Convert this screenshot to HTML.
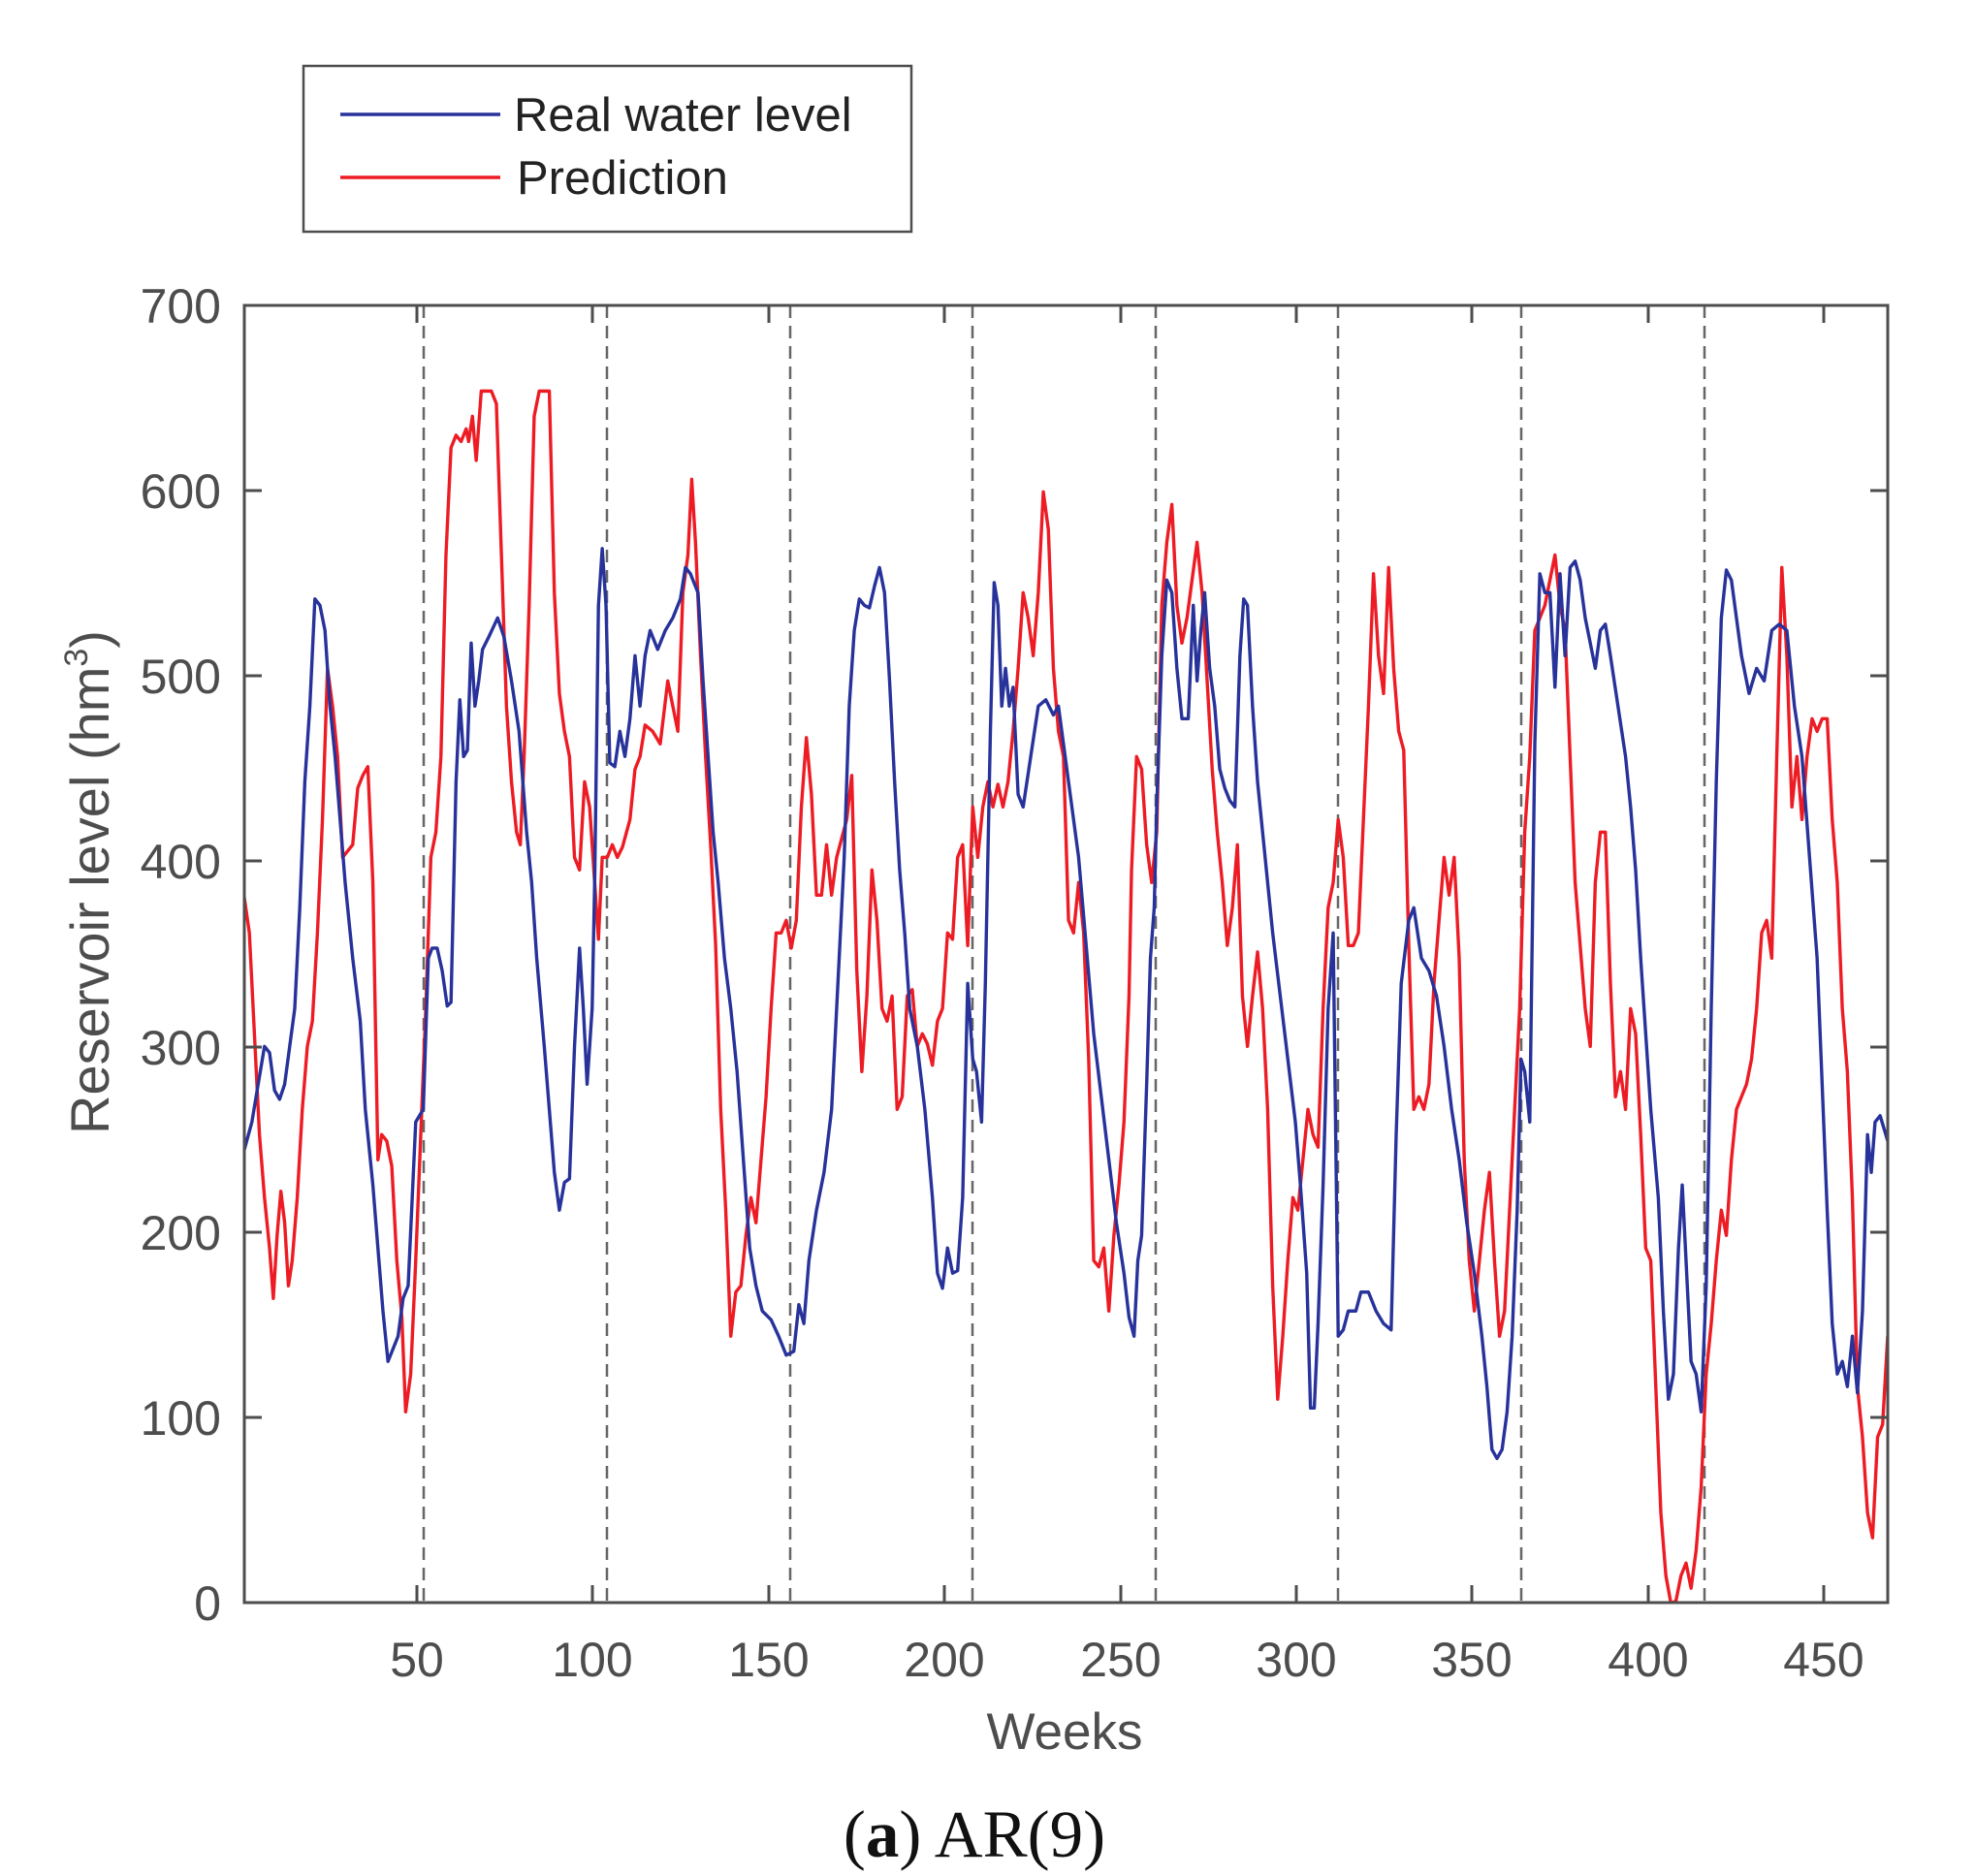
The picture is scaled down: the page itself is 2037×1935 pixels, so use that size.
<!DOCTYPE html>
<html><head><meta charset="utf-8"><style>html,body{margin:0;padding:0;background:#fff}svg{display:block}</style></head>
<body>
<svg width="2037" height="1935" viewBox="0 0 2037 1935" xmlns="http://www.w3.org/2000/svg" font-family="Liberation Sans, Arial, sans-serif" fill="#4d4d4d">
<defs><clipPath id="c"><rect x="252" y="315" width="1695" height="1338"/></clipPath></defs>
<g stroke="#666" stroke-width="2.5" stroke-dasharray="13,8">
<line x1="437" y1="315" x2="437" y2="1653"/><line x1="626" y1="315" x2="626" y2="1653"/><line x1="815" y1="315" x2="815" y2="1653"/><line x1="1003" y1="315" x2="1003" y2="1653"/><line x1="1192" y1="315" x2="1192" y2="1653"/><line x1="1380" y1="315" x2="1380" y2="1653"/><line x1="1569" y1="315" x2="1569" y2="1653"/><line x1="1758" y1="315" x2="1758" y2="1653"/>
</g>
<g clip-path="url(#c)"><g transform="translate(252,315) scale(1.2998) translate(-194,-242)" fill="none" stroke-linejoin="round">
<polyline vector-effect="non-scaling-stroke" stroke="#ed1c24" stroke-width="3.4" points="194,712 198,740 202,820 206,900 210,950 214,990 217,1030 220,980 223,945 226,970 229,1020 232,1000 236,950 240,880 244,830 248,810 252,740 256,650 260,530 264,560 268,600 272,680 276,675 280,670 284,625 288,615 292,608 296,700 300,920 303,900 307,905 311,925 315,1000 319,1045 322,1120 326,1090 330,1000 334,900 338,800 342,680 346,660 350,600 354,440 358,355 362,345 366,350 370,340 372,350 375,330 378,365 382,310 386,310 390,310 394,320 398,440 402,560 406,620 410,660 413,670 416,600 420,480 424,330 428,310 432,310 436,310 440,470 444,550 448,580 452,600 456,680 460,690 464,620 468,640 472,700 475,745 478,680 482,680 486,670 490,680 494,672 500,650 504,610 508,600 512,575 518,580 524,590 530,540 534,560 538,580 542,470 546,440 549,380 552,430 556,520 560,600 564,670 568,750 572,880 576,960 580,1060 584,1025 588,1020 592,980 596,950 600,970 604,920 608,870 612,800 616,740 620,740 624,730 628,752 632,730 636,640 640,585 644,630 648,710 652,710 656,670 660,710 664,680 668,665 672,650 676,615 680,770 684,850 688,790 692,690 696,730 700,800 704,810 708,790 712,880 716,870 720,790 724,785 728,830 732,820 736,828 740,845 744,810 748,800 752,740 756,745 760,680 764,670 768,750 772,640 776,680 780,640 784,620 788,640 792,622 796,640 800,620 804,580 808,530 812,470 816,490 820,520 824,470 828,390 832,420 836,530 840,580 844,600 848,730 852,740 856,700 860,740 864,840 868,1000 872,1005 876,990 880,1040 884,980 888,940 892,890 896,790 898,690 902,600 906,610 910,670 914,700 918,660 922,480 926,430 930,400 934,480 938,510 942,490 946,460 950,430 954,470 958,540 962,610 966,660 970,700 974,750 978,720 982,670 986,790 990,830 994,790 998,755 1002,800 1006,880 1010,1020 1014,1110 1018,1060 1022,1000 1026,950 1030,960 1034,920 1038,880 1042,900 1046,910 1050,800 1054,720 1058,700 1062,650 1066,680 1070,750 1074,750 1078,740 1082,650 1086,560 1090,455 1094,520 1098,550 1102,450 1106,530 1110,580 1114,595 1118,750 1122,880 1126,870 1130,880 1134,860 1138,780 1142,730 1146,680 1150,710 1154,680 1158,760 1162,920 1166,1000 1170,1040 1174,1000 1178,960 1182,930 1186,1000 1190,1060 1194,1040 1198,960 1202,880 1206,800 1210,660 1214,600 1218,500 1222,490 1226,480 1230,460 1234,440 1238,480 1242,500 1246,600 1250,700 1254,750 1258,800 1262,830 1266,700 1270,660 1274,660 1278,780 1282,870 1286,850 1290,880 1294,800 1298,820 1302,900 1306,990 1310,1000 1314,1100 1318,1200 1322,1250 1326,1272 1330,1270 1334,1250 1338,1240 1342,1260 1346,1230 1350,1180 1354,1090 1358,1050 1362,1000 1366,960 1370,980 1374,920 1378,880 1382,870 1386,860 1390,840 1394,800 1398,740 1402,730 1406,760 1410,600 1414,450 1418,520 1422,640 1426,600 1430,650 1434,600 1438,570 1442,580 1446,570 1450,570 1454,650 1458,700 1462,800 1466,850 1470,950 1474,1100 1478,1140 1482,1200 1486,1220 1490,1140 1494,1130 1498,1060"/>
<polyline vector-effect="non-scaling-stroke" stroke="#27329a" stroke-width="3.4" points="194,912 200,890 205,860 210,830 214,835 218,865 222,872 226,860 230,830 234,800 238,720 242,620 246,560 250,475 254,480 258,500 262,560 266,600 270,650 274,700 280,760 286,810 290,880 296,940 300,990 304,1040 308,1080 312,1070 316,1060 320,1030 324,1020 330,890 336,880 340,760 343,752 347,752 351,770 355,798 358,795 362,620 365,555 368,600 371,595 374,510 377,560 380,540 383,515 388,505 395,490 400,505 406,540 412,580 418,660 422,700 426,760 432,830 436,880 440,930 444,960 448,938 452,935 456,830 460,752 463,800 466,860 470,800 472,700 475,480 478,435 481,480 484,605 488,608 492,580 496,600 500,570 504,520 508,560 512,520 516,500 522,515 528,500 534,490 540,475 544,450 548,455 554,470 558,540 562,600 566,660 570,700 575,760 580,800 585,850 590,920 595,990 600,1020 605,1040 612,1047 618,1060 624,1075 630,1072 634,1035 638,1050 642,1000 648,960 654,930 660,880 666,760 670,680 674,560 678,500 682,475 686,480 690,482 694,465 698,450 702,470 706,540 710,620 714,690 718,740 722,800 728,830 734,880 740,950 744,1010 748,1022 752,990 756,1010 760,1008 764,950 768,780 772,840 775,850 779,890 782,780 786,580 789,462 792,480 795,560 798,530 801,560 804,545 808,630 812,640 818,600 824,560 830,555 836,567 840,560 844,590 850,635 856,680 862,750 868,820 874,870 880,920 886,970 892,1010 896,1045 900,1060 903,1000 906,980 910,860 913,760 916,720 918,640 922,520 926,460 930,470 934,530 938,570 943,570 947,480 950,540 953,500 956,470 960,530 964,560 968,610 972,625 976,635 980,640 984,520 987,475 990,480 994,560 998,620 1004,680 1010,740 1016,790 1022,840 1028,890 1032,940 1037,1010 1040,1117 1043,1117 1046,1050 1050,940 1054,800 1058,740 1062,1060 1066,1055 1070,1040 1076,1040 1080,1025 1086,1025 1092,1040 1098,1050 1104,1055 1108,900 1112,780 1118,730 1122,720 1128,760 1134,770 1140,790 1146,830 1152,880 1158,920 1164,970 1170,1010 1176,1060 1180,1100 1184,1150 1188,1157 1192,1150 1196,1120 1200,1060 1204,960 1207,840 1210,850 1214,890 1218,590 1222,455 1226,470 1230,470 1234,545 1238,455 1242,520 1246,450 1250,445 1254,460 1258,490 1262,510 1266,530 1270,500 1274,495 1278,520 1284,560 1290,600 1294,640 1298,690 1302,760 1306,820 1310,880 1316,950 1320,1040 1324,1110 1328,1090 1332,990 1335,940 1338,1000 1342,1080 1346,1090 1350,1120 1354,1020 1358,800 1362,620 1366,490 1370,452 1374,460 1378,490 1382,520 1388,550 1394,530 1400,540 1406,500 1412,495 1418,500 1424,560 1430,600 1436,680 1442,760 1446,860 1450,960 1454,1050 1458,1090 1462,1080 1466,1100 1470,1060 1474,1105 1478,1040 1482,900 1485,930 1488,890 1492,885 1498,905"/>
</g></g>
<rect x="252" y="315" width="1695" height="1338" fill="none" stroke="#4d4d4d" stroke-width="3"/>
<g stroke="#4d4d4d" stroke-width="3">
<path d="M252 315h18M252 506h18M252 697h18M252 888h18M252 1080h18M252 1271h18M252 1462h18M1947 315h-18M1947 506h-18M1947 697h-18M1947 888h-18M1947 1080h-18M1947 1271h-18M1947 1462h-18"/>
<path d="M430 1653v-18M611 1653v-18M793 1653v-18M974 1653v-18M1156 1653v-18M1337 1653v-18M1518 1653v-18M1700 1653v-18M1881 1653v-18M430 315v18M611 315v18M793 315v18M974 315v18M1156 315v18M1337 315v18M1518 315v18M1700 315v18M1881 315v18"/>
</g>
<g font-size="50" text-anchor="end">
<text x="228" y="333">700</text><text x="228" y="524">600</text><text x="228" y="715">500</text><text x="228" y="906">400</text><text x="228" y="1098">300</text><text x="228" y="1289">200</text><text x="228" y="1480">100</text><text x="228" y="1671">0</text>
</g>
<g font-size="50" text-anchor="middle">
<text x="430" y="1729">50</text><text x="611" y="1729">100</text><text x="793" y="1729">150</text><text x="974" y="1729">200</text><text x="1156" y="1729">250</text><text x="1337" y="1729">300</text><text x="1518" y="1729">350</text><text x="1700" y="1729">400</text><text x="1881" y="1729">450</text>
<text x="1098" y="1804" font-size="53">Weeks</text>
<text transform="translate(112,910) rotate(-90)" font-size="56">Reservoir level (hm<tspan font-size="34" dy="-22">3</tspan><tspan dy="22">)</tspan></text>
<text x="1005" y="1915" font-family="Liberation Serif, serif" font-size="69" fill="#111">(<tspan font-weight="bold">a</tspan>) AR(9)</text>
</g>
<rect x="313" y="68" width="627" height="171" fill="#fff" stroke="#4d4d4d" stroke-width="2.5"/>
<line x1="351" y1="118" x2="516" y2="118" stroke="#27329a" stroke-width="3.5"/>
<line x1="351" y1="183" x2="516" y2="183" stroke="#ed1c24" stroke-width="3.5"/>
<g font-size="49" fill="#222"><text x="530" y="135">Real water level</text><text x="533" y="200">Prediction</text></g>
</svg>
</body></html>
